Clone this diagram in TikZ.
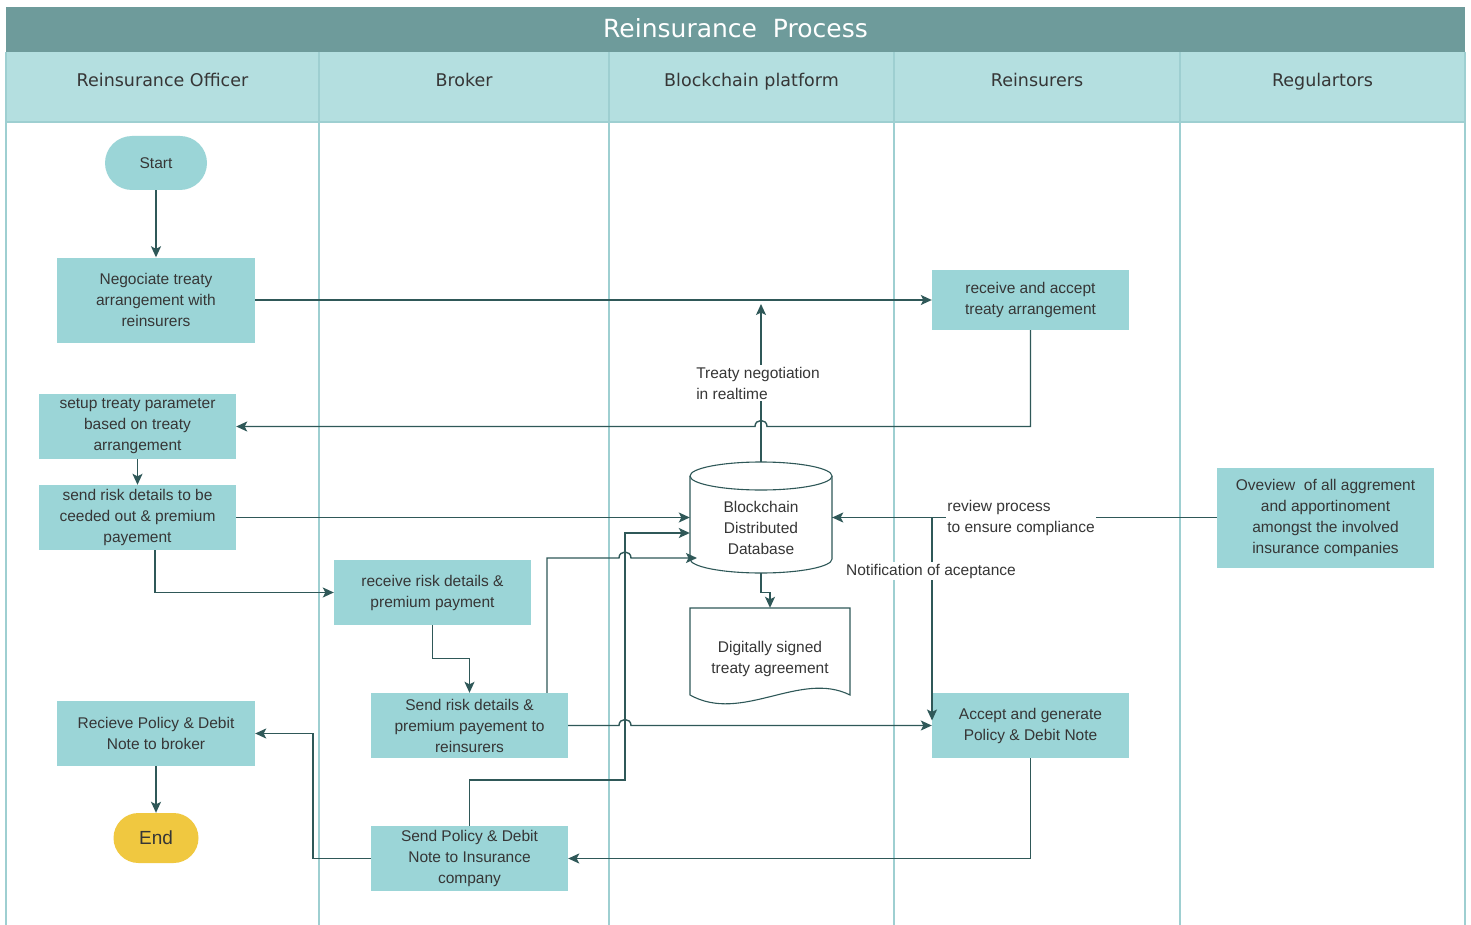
\documentclass[tikz,border=0pt]{standalone}
\usepackage{fontspec}
\setmainfont{Liberation Sans}
\newfontfamily\headfont{DejaVu Sans}
\usetikzlibrary{arrows.meta,calc}

\definecolor{titlebar}{HTML}{6E9B9B}
\definecolor{headbg}{HTML}{B4DFE0}
\definecolor{laneline}{HTML}{9ECFD1}
\definecolor{boxfill}{HTML}{9BD5D7}
\definecolor{endfill}{HTML}{F0C840}
\definecolor{wire}{HTML}{2F5858}
\definecolor{ink}{HTML}{363636}

\begin{document}
\begin{tikzpicture}[x=1pt,y=-1pt,
  proc/.style={rectangle, fill=boxfill, draw=none, text=ink, align=center,
    font=\fontsize{15.5}{21}\selectfont, inner sep=0pt},
  capsule/.style={proc},
  plain/.style={rectangle, draw=none, text=ink, align=center,
    font=\fontsize{15.5}{21}\selectfont, inner sep=0pt},
  lbl/.style={fill=white, text=ink, align=left,
    font=\fontsize{15.5}{21}\selectfont, inner sep=1.5pt},
  conn/.style={draw=wire, line width=1.4pt},
  arr/.style={conn, -{Stealth[length=11pt,width=10pt,inset=2.5pt]}},
  outline/.style={draw=wire, line width=1.1pt},
  lane/.style={draw=laneline, line width=1.3pt},
  lanehead/.style={text=ink, font=\headfont\fontsize{17.5}{20}\selectfont,
    anchor=base, inner sep=0pt}
]
\useasboundingbox (0,0) rectangle (1471,925);
\fill[white] (0,0) rectangle (1471,925);

% pool: title bar and lane headers
\fill[titlebar] (6,7) rectangle (1465,52);
\fill[headbg] (6,52) rectangle (1465,122);
\node[text=white, font=\headfont\fontsize{25}{28}\selectfont, anchor=base, inner sep=0pt] (title) at (735.5,38) {Reinsurance\ \ Process};
\draw[lane] (6,122) -- (1465,122);
\foreach \x in {6,319,609,894,1180,1465} \draw[lane] (\x,52) -- (\x,925);
\node[lanehead] (h1) at (162.5,86.5) {Reinsurance Officer};
\node[lanehead] (h2) at (464,86.5) {Broker};
\node[lanehead] (h3) at (751.5,86.5) {Blockchain platform};
\node[lanehead] (h4) at (1037,86.5) {Reinsurers};
\node[lanehead] (h5) at (1322.5,86.5) {Regulartors};

% process steps
\node[capsule, minimum width=102pt, minimum height=54pt, rounded corners=27pt] (start) at (156,163) {Start};
\node[proc, minimum width=198pt, minimum height=85pt] (neg) at (156,300) {Negociate treaty\\arrangement with\\reinsurers};
\node[proc, minimum width=197pt, minimum height=60pt] (ra) at (1030.5,300) {receive and accept\\treaty arrangement};
\node[proc, minimum width=197pt, minimum height=65pt] (setup) at (137.5,426.5) {setup treaty parameter\\based on treaty\\arrangement};
\node[proc, minimum width=197pt, minimum height=65pt] (sendrisk) at (137.5,517.5) {send risk details to be\\ceeded out \& premium\\payement};
\node[proc, minimum width=197pt, minimum height=65pt] (recvrisk) at (432.5,592.5) {receive risk details \&\\premium payment};
\node[proc, minimum width=197pt, minimum height=65pt] (sendrisk2) at (469.5,725.5) {Send risk details \&\\premium payement to\\reinsurers};
\node[proc, minimum width=197pt, minimum height=65pt] (sendpolicy) at (469.5,858.5) {Send Policy \& Debit\\Note to Insurance\\company};
\node[proc, minimum width=198pt, minimum height=65pt] (recvpolicy) at (156,733.5) {Recieve Policy \& Debit\\Note to broker};
\node[capsule, fill=endfill, minimum width=85pt, minimum height=50pt, rounded corners=25pt,
  font=\fontsize{19}{22}\selectfont] (end) at (156,838) {End};
\node[proc, minimum width=197pt, minimum height=65pt] (accept) at (1030.5,725.5) {Accept and generate\\Policy \& Debit Note};
\node[proc, minimum width=217pt, minimum height=100pt] (overview) at (1325.5,517.5) {Oveview\ \ of all aggrement\\and apportinoment\\amongst the involved\\insurance companies};

% distributed database (cylinder)
\node[plain, minimum width=142pt, minimum height=111pt] (db) at (761,517.5) {};
\draw[outline, fill=white] (690,476) -- (690,559)
  .. controls (690,566.7) and (721.8,573) .. (761,573)
  .. controls (800.2,573) and (832,566.7) .. (832,559) -- (832,476);
\draw[outline, fill=white] (761,476) ellipse [x radius=71, y radius=14];
\node[plain] (dbtext) at (761,528) {Blockchain\\Distributed\\Database};

% signed agreement (document)
\node[plain, minimum width=160pt, minimum height=100pt] (doc) at (770,658) {};
\draw[outline, fill=white] (690,608) -- (850,608) -- (850,695)
  .. controls (800,670) and (742,724) .. (690,695) -- cycle;
\node[plain] (doctext) at (770,658.5) {Digitally signed\\treaty agreement};

% junction points
\coordinate (busA) at (625,780);
\coordinate (busB) at (625,533);
\coordinate (sr2up) at (547,558);
\coordinate (ret) at (313,858.5);
\coordinate (notif) at (932,517.5);

% connectors
\draw[arr] (start.south) -- (neg.north);
\draw[arr] (neg.east) -- (ra.west);
\draw[arr] (ra.south) |- (767,426.5) .. controls (767,418.5) and (755,418.5) .. (755,426.5) -- (setup.east);
\draw[arr] (db.north) -- ([yshift=-4pt]db.north |- neg.east);
\node[lbl] (treatylbl) at (758,383) {Treaty negotiation\\in realtime};
\draw[arr] (setup.south) -- (sendrisk.north);
\draw[arr] (sendrisk.east) -- (db.west);
\draw[arr] ([xshift=17.5pt]sendrisk.south) |- (recvrisk.west);
\draw[arr] (recvrisk.south) -- ++(0,33) -| (sendrisk2.north);
\draw[arr] (sendpolicy.north) |- (busA) -- (busB) -- (db.west |- busB);
\draw[arr] (sendrisk2.north -| sr2up) -- (sr2up) -- (619,558) .. controls (619,550) and (631,550) .. (631,558) -- (697,558);
\draw[arr] (sendrisk2.east) -- (619,725.5) .. controls (619,717.5) and (631,717.5) .. (631,725.5) -- (accept.west);
\draw[arr] (db.south) -- ++(0,19) -| (doc.north);
\draw[arr] (overview.west) -- (db.east);
\node[lbl] (reviewlbl) at (1021,518) {review process\\to ensure compliance};
\draw[arr] (db.east) -- (notif) -- ([yshift=5pt]accept.west -| notif);
\node[lbl] (notiflbl) at (931,571) {Notification of aceptance};
\draw[arr] (accept.south) |- (sendpolicy.east);
\draw[arr] (sendpolicy.west) -- (ret) |- (recvpolicy.east);
\draw[arr] (recvpolicy.south) -- (end.north);
\end{tikzpicture}
\end{document}
